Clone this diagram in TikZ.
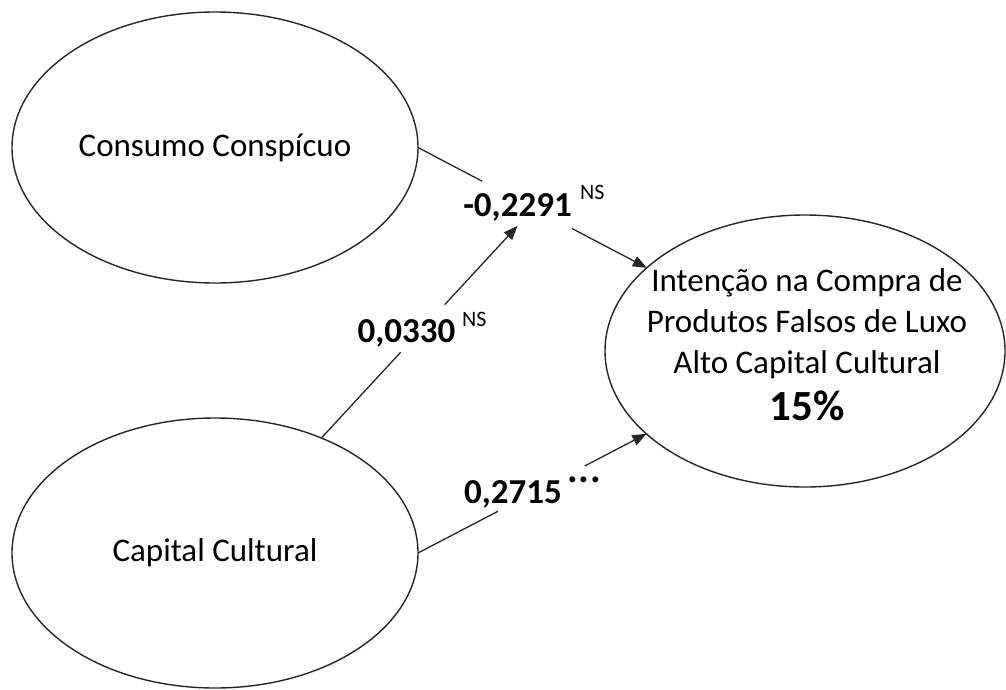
\documentclass[tikz,border=0pt]{standalone}
\usepackage{fontspec}
\setmainfont{Carlito}
\usetikzlibrary{shapes.geometric,arrows.meta}
\begin{document}
\begin{tikzpicture}[x=1pt,y=-1pt,
  latent/.style={ellipse,draw=black!85,line width=1.4pt,inner sep=0pt,outer sep=0pt,
    font=\fontsize{33}{41}\selectfont},
  coef/.style={font=\fontsize{35}{42}\selectfont\bfseries,inner sep=5pt,anchor=base},
  sig/.style={font=\fontsize{22}{26}\selectfont,inner sep=0pt,anchor=base west},
  link/.style={draw=black!85,line width=1.3pt},
  arr/.style={link,-{Triangle[length=14pt,width=11pt]}}]
\useasboundingbox (0,0) rectangle (1006,689);

% latent variables
\node[latent,minimum width=406pt,minimum height=271pt] (cc) at (215,147.5) {Consumo Conspícuo};
\node[latent,minimum width=406pt,minimum height=270pt] (cap) at (215,553) {Capital Cultural};
\node[latent,minimum width=400pt,minimum height=272pt] (ie) at (805,351) {};
\node[font=\fontsize{33}{41}\selectfont,align=center,inner sep=0pt] (iet) at (807,345)
  {Intenção na Compra de\\Produtos Falsos de Luxo\\Alto Capital Cultural\\[6pt]{\fontsize{43}{49}\selectfont\bfseries 15\%}};

% path coefficients
\node[coef] (b1) at (517.5,216) {-0,2291};
\node[sig] (s1) at (580,199) {NS};
\node[coef] (b2) at (406.5,342) {0,0330};
\node[sig] (s2) at (462,326) {NS};
\node[coef] (b3) at (513,503) {0,2715};
\node[font=\fontsize{40}{46}\selectfont\bfseries,inner sep=0pt,anchor=base west] (s3) at (567,482) {.\kern1pt.\kern1pt.};

% paths, interrupted where the coefficients sit
\path (cc.east) -- (ie) coordinate[pos=0.28] (g1a) coordinate[pos=0.673] (g1b);
\draw[link] (cc.east) -- (g1a);
\draw[arr] (g1b) -- (ie);

\path (cap) -- (b1.south) coordinate[pos=0.404] (g2a) coordinate[pos=0.629] (g2b);
\draw[link] (cap) -- (g2a);
\draw[arr] (g2b) -- (b1.south);

\path (cap.east) -- (ie) coordinate[pos=0.35] (g3a) coordinate[pos=0.73] (g3b);
\draw[link] (cap.east) -- (g3a);
\draw[arr] (g3b) -- (ie);
\end{tikzpicture}
\end{document}
